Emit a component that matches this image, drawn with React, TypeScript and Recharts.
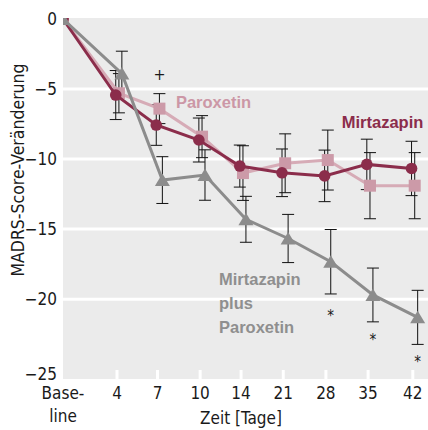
import React from 'react';
import {
  ScatterChart,
  Scatter,
  XAxis,
  YAxis,
  CartesianGrid,
  ErrorBar,
  ReferenceLine,
  ReferenceDot,
} from 'recharts';

const FONT = "'Liberation Sans Narrow', 'DejaVu Sans Condensed', 'Liberation Sans', sans-serif";
const LABEL_FONT = "'Liberation Sans', Arial, sans-serif";

// Zeitpunkte (Baseline sitzt etwas weiter links als die übrigen Tage)
const dayLabels = ['Baseline', '4', '7', '10', '14', '21', '28', '35', '42'];
const daySlots = [0, 1.28, 2.24, 3.25, 4.22, 5.22, 6.23, 7.23, 8.29];

const mirtazapin = [0, -5.43, -7.57, -8.64, -10.5, -10.98, -11.2, -10.38, -10.67];
const mirtazapinErr = [null, 1.75, 1.45, 1.57, 1.5, 1.7, 1.84, 1.8, 1.94];

const paroxetin = [0, -5.3, -6.4, -8.4, -11.0, -10.3, -10.07, -11.9, -11.9];
const paroxetinErr = [null, 1.4, 1.07, 1.5, 1.95, 2.1, 2.14, 2.36, 2.36];

const kombination = [0, -3.9, -11.5, -11.14, -14.3, -15.67, -17.33, -19.7, -21.3];
const kombinationErr = [null, 1.6, 1.67, 1.8, 1.64, 1.72, 2.3, 1.92, 1.93];

const plusDays = ['7'];
const plusValues = [-4.0];
const starDays = ['28', '35', '42'];
const starValues = [-21.0, -22.7, -24.3];

const yTicks = [0, -5, -10, -15, -20, -25];
const gridValues = [-5, -10, -15, -20];

const MAROON = '#8b2d4b';
const PINK = '#cc9aa8';
const PINK_LINE = '#d6abb6';
const GREY = '#8c8c8c';

function slotOf(day: string, offset = 0) {
  const i = dayLabels.indexOf(day);
  return i === 0 ? 0 : daySlots[i] + offset;
}

function buildSeries(values: number[], errs: (number | null)[], offset: number) {
  return dayLabels.map((d, i) => ({ x: slotOf(d, offset), y: values[i], e: errs[i] }));
}

const mirData = buildSeries(mirtazapin, mirtazapinErr, -0.03);
const parData = buildSeries(paroxetin, paroxetinErr, 0.045);
const kombData = buildSeries(kombination, kombinationErr, 0.115);
const plusData = plusDays.map((d, i) => ({ x: slotOf(d, 0.05), y: plusValues[i] }));
const starData = starDays.map((d, i) => ({ x: slotOf(d, 0.115), y: starValues[i] }));

function XTick(props: any) {
  const { x, y, payload } = props;
  const i = daySlots.indexOf(payload.value);
  const label = dayLabels[i];
  const common = { textAnchor: 'middle' as const, fontSize: 17, fill: '#1a1a1a', fontFamily: FONT };
  if (i === 0) {
    return (
      <g>
        <text x={x} y={y + 20} {...common}>Base-</text>
        <text x={x} y={y + 43} {...common}>line</text>
      </g>
    );
  }
  return (
    <g>
      <line x1={x} y1={y - 9} x2={x} y2={y} stroke="#fff" strokeWidth={3} />
      <text x={x} y={y + 20} {...common}>{label}</text>
    </g>
  );
}

function YTick(props: any) {
  const { x, y, payload } = props;
  const v = payload.value as number;
  const shift = v === -25 ? 5 : 0;
  return (
    <text x={x} y={y + shift} dy="0.36em" textAnchor="end" fontSize={17} fill="#1a1a1a" fontFamily={FONT}>
      {v === 0 ? '0' : '\u2212' + Math.abs(v)}
    </text>
  );
}

const circle = (p: any) => <circle cx={p.cx} cy={p.cy} r={5.8} fill={MAROON} />;
const square = (p: any) => <rect x={p.cx - 6} y={p.cy - 6} width={12} height={12} fill={PINK} />;
const triangle = (p: any) => (
  <path d={`M${p.cx},${p.cy - 6.5} L${p.cx + 7.5},${p.cy + 6} L${p.cx - 7.5},${p.cy + 6} Z`} fill={GREY} />
);
const plusShape = (p: any) => (
  <text x={p.cx} y={p.cy + 5} textAnchor="middle" fontSize={16} fill="#1a1a1a" fontFamily={FONT}>+</text>
);
const starShape = (p: any) => (
  <text x={p.cx} y={p.cy + 8} textAnchor="middle" fontSize={15} fill="#1a1a1a" fontFamily={FONT}>*</text>
);

function nameLabel(lines: string[], color: string) {
  return (props: any) => {
    const vb = props.viewBox || {};
    const x = vb.x ?? 0;
    const y = (vb.y ?? 0) + (vb.height ?? 0) / 2;
    return (
      <g>
        {lines.map((t, k) => (
          <text
            key={k}
            x={x}
            y={y + k * 24}
            dy="0.36em"
            fontSize={16.5}
            fontWeight="bold"
            fill={color}
            fontFamily={LABEL_FONT}
          >
            {t}
          </text>
        ))}
      </g>
    );
  };
}

export default function App() {
  return (
    <div style={{ position: 'absolute', left: 0, top: 0 }}>
      <ScatterChart width={428} height={430} margin={{ top: 18, right: 0, bottom: 0, left: 0 }}>
        <CartesianGrid fill="#ebebeb" horizontal={false} vertical={false} stroke="none" />
        <XAxis
          type="number"
          dataKey="x"
          domain={[0, 8.65]}
          ticks={daySlots}
          height={51}
          axisLine={false}
          tickLine={false}
          tickSize={0}
          tickMargin={0}
          interval={0}
          tick={<XTick />}
          allowDataOverflow
          label={(p: any) => (
            <text x={241} y={424} textAnchor="middle" fontSize={17} fill="#1a1a1a" fontFamily={FONT}>
              Zeit [Tage]
            </text>
          )}
        />
        <YAxis
          type="number"
          dataKey="y"
          domain={[-25.7, 0.07]}
          ticks={yTicks}
          width={63}
          axisLine={false}
          tickLine={false}
          tickSize={0}
          tickMargin={6}
          interval={0}
          tick={<YTick />}
          allowDataOverflow
          label={(p: any) => (
            <text
              x={18}
              y={170}
              transform="rotate(-90 18 170)"
              textAnchor="middle"
              dy="0.36em"
              fontSize={17.5}
              fill="#1a1a1a"
              fontFamily={FONT}
            >
              MADRS-Score-Veränderung
            </text>
          )}
        />
        {gridValues.map((v) => (
          <ReferenceLine key={v} y={v} stroke="#fff" strokeWidth={3} />
        ))}
        <Scatter data={parData} line={{ stroke: PINK_LINE, strokeWidth: 3 }} shape={square} isAnimationActive={false}>
          <ErrorBar dataKey="e" direction="y" width={6} stroke="#111" strokeWidth={1} />
        </Scatter>
        <Scatter data={mirData} line={{ stroke: MAROON, strokeWidth: 3 }} shape={circle} isAnimationActive={false}>
          <ErrorBar dataKey="e" direction="y" width={6} stroke="#111" strokeWidth={1} />
        </Scatter>
        <Scatter data={kombData} line={{ stroke: GREY, strokeWidth: 3 }} shape={triangle} isAnimationActive={false}>
          <ErrorBar dataKey="e" direction="y" width={6} stroke="#111" strokeWidth={1} />
        </Scatter>
        <Scatter data={plusData} shape={plusShape} isAnimationActive={false} />
        <Scatter data={starData} shape={starShape} isAnimationActive={false} />
        <ReferenceDot x={2.7} y={-5.93} r={1} fill="none" stroke="none" label={nameLabel(['Paroxetin'], '#cc97a6')} />
        <ReferenceDot x={6.63} y={-7.36} r={1} fill="none" stroke="none" label={nameLabel(['Mirtazapin'], MAROON)} />
        <ReferenceDot
          x={3.72}
          y={-18.57}
          r={1}
          fill="none"
          stroke="none"
          label={nameLabel(['Mirtazapin', 'plus', 'Paroxetin'], '#8f8f8f')}
        />
      </ScatterChart>
    </div>
  );
}
